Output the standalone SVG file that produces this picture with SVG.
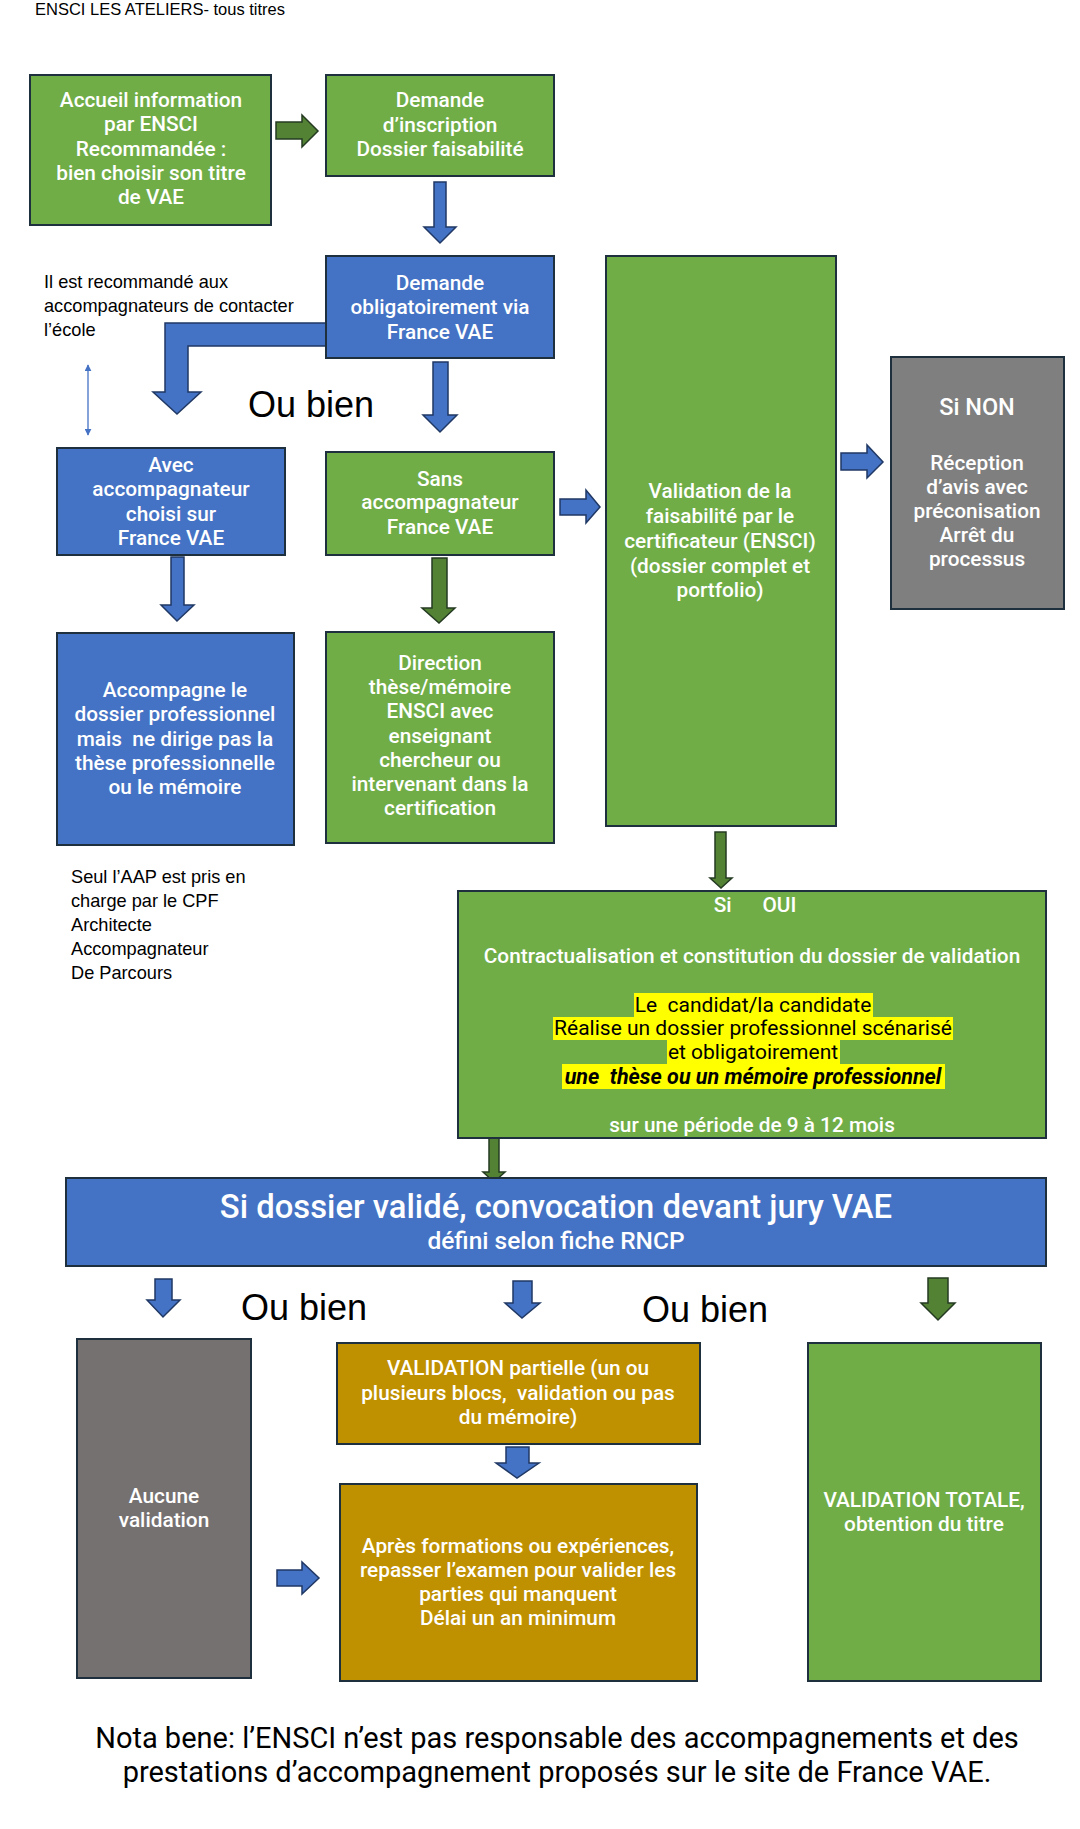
<svg xmlns="http://www.w3.org/2000/svg" width="1080" height="1829" viewBox="0 0 1080 1829">
<style>
.bx{stroke:#1e2f3e;stroke-width:2}
.g{fill:#70ad47}.b{fill:#4472c4}.gr{fill:#7f7f7f}.gb{fill:#767171}.au{fill:#bf9000}
.t{fill:#ffffff;font-family:Roboto,"Liberation Sans",sans-serif;font-weight:500;font-size:20.8px;text-anchor:middle}
.n{fill:#000000;font-family:"Liberation Sans",Arial,sans-serif;font-size:18.2px}
.ou{fill:#000000;font-family:"Liberation Sans",Arial,sans-serif;font-size:36px}
.k{fill:#000000;font-family:Roboto,"Liberation Sans",sans-serif;font-size:21px;text-anchor:middle}
.ab{fill:#4472c4;stroke:#203864;stroke-width:1.5}
.ag{fill:#548235;stroke:#243b22;stroke-width:1.5}
.pre{white-space:pre}
</style>
<defs>
<marker id="ah" viewBox="0 0 10 10" refX="9" refY="5" markerWidth="7" markerHeight="7" orient="auto-start-reverse" markerUnits="userSpaceOnUse">
<path d="M0,0 L10,5 L0,10 z" fill="#4472c4"/>
</marker>
</defs>
<rect width="1080" height="1829" fill="#ffffff"/>
<text x="35" y="15" style="fill:#000;font-family:'Liberation Sans',Arial,sans-serif;font-size:16.5px">ENSCI LES ATELIERS- tous titres</text>

<g id="connectors">
<polygon class="ag" points="276,122 302,122 302,115 318,131 302,147 302,139 276,139"/>
<polygon class="ab" points="434,182 446,182 446,227 456,227 440,243 424,227 434,227"/>
<polygon class="ab" points="327,323 165,323 165,392 153,392 177,414 201,392 188,392 188,346 327,346"/>
<polygon class="ab" points="433,362 448,362 448,415 457,415 440,432 423,415 433,415"/>
<line x1="88" y1="365" x2="88" y2="435" stroke="#4472c4" stroke-width="1.3" marker-start="url(#ah)" marker-end="url(#ah)"/>
<polygon class="ab" points="560,499 586,499 586,490 600,507 586,523 586,515 560,515"/>
<polygon class="ab" points="841,453 867,453 867,445 883,462 867,478 867,470 841,470"/>
<polygon class="ab" points="171,557 184,557 184,605 194,605 177,621 161,605 171,605"/>
<polygon class="ag" points="432,558 447,558 447,608 455,608 439,623 422,608 432,608"/>
<polygon class="ag" points="715,832 726,832 726,878 732,878 721,888 710,878 715,878"/>
<polygon class="ag" points="489,1124 499,1124 499,1172 505,1172 494,1182 483,1172 489,1172"/>
<polygon class="ab" points="155,1279 172,1279 172,1300 180,1300 163,1317 147,1300 155,1300"/>
<polygon class="ab" points="513,1281 532,1281 532,1303 540,1303 522,1318 505,1303 513,1303"/>
<polygon class="ag" points="928,1278 948,1278 948,1303 955,1303 938,1320 921,1303 928,1303"/>
<polygon class="ab" points="506,1447 529,1447 529,1463 539,1463 517,1478 496,1463 506,1463"/>
<polygon class="ab" points="277,1570 302,1570 302,1562 319,1578 302,1594 302,1586 277,1586"/>
</g>

<g id="accueil">
<rect class="bx g" x="30" y="75" width="241" height="150"/>
<text class="t"><tspan x="151" y="107">Accueil information</tspan><tspan x="151" y="131">par ENSCI</tspan><tspan x="151" y="156">Recommandée :</tspan><tspan x="151" y="180">bien choisir son titre</tspan><tspan x="151" y="204">de VAE</tspan></text>
</g>
<g id="demande-inscription">
<rect class="bx g" x="326" y="75" width="228" height="101"/>
<text class="t"><tspan x="440" y="107">Demande</tspan><tspan x="440" y="132">d’inscription</tspan><tspan x="440" y="156">Dossier faisabilité</tspan></text>
</g>
<g id="demande-france-vae">
<rect class="bx b" x="326" y="256" width="228" height="102"/>
<text class="t"><tspan x="440" y="290">Demande</tspan><tspan x="440" y="314">obligatoirement via</tspan><tspan x="440" y="339">France VAE</tspan></text>
</g>
<g id="note-recommande">
<text class="n"><tspan x="44" y="288">Il est recommandé aux</tspan><tspan x="44" y="312">accompagnateurs de contacter</tspan><tspan x="44" y="336">l’école</tspan></text>
</g>
<text class="ou" x="248" y="417">Ou bien</text>
<g id="avec">
<rect class="bx b" x="57" y="448" width="228" height="107"/>
<text class="t"><tspan x="171" y="472">Avec</tspan><tspan x="171" y="496">accompagnateur</tspan><tspan x="171" y="521">choisi sur</tspan><tspan x="171" y="545">France VAE</tspan></text>
</g>
<g id="sans">
<rect class="bx g" x="326" y="452" width="228" height="103"/>
<text class="t"><tspan x="440" y="486">Sans</tspan><tspan x="440" y="509">accompagnateur</tspan><tspan x="440" y="534">France VAE</tspan></text>
</g>
<g id="validation-faisabilite">
<rect class="bx g" x="606" y="256" width="230" height="570"/>
<text class="t"><tspan x="720" y="498">Validation de la</tspan><tspan x="720" y="523">faisabilité par le</tspan><tspan x="720" y="548">certificateur (ENSCI)</tspan><tspan x="720" y="573">(dossier complet et</tspan><tspan x="720" y="597">portfolio)</tspan></text>
</g>
<g id="si-non">
<rect class="bx gr" x="891" y="357" width="173" height="252"/>
<text class="t" x="977" y="415" style="font-size:23.5px">Si NON</text>
<text class="t"><tspan x="977" y="470">Réception</tspan><tspan x="977" y="494">d’avis avec</tspan><tspan x="977" y="518">préconisation</tspan><tspan x="977" y="542">Arrêt du</tspan><tspan x="977" y="566">processus</tspan></text>
</g>
<g id="accompagne">
<rect class="bx b" x="57" y="633" width="237" height="212"/>
<text class="t pre"><tspan x="175" y="697">Accompagne le</tspan><tspan x="175" y="721">dossier professionnel</tspan><tspan x="175" y="746">mais  ne dirige pas la</tspan><tspan x="175" y="770">thèse professionnelle</tspan><tspan x="175" y="794">ou le mémoire</tspan></text>
</g>
<g id="direction">
<rect class="bx g" x="326" y="632" width="228" height="211"/>
<text class="t"><tspan x="440" y="670">Direction</tspan><tspan x="440" y="694">thèse/mémoire</tspan><tspan x="440" y="718">ENSCI avec</tspan><tspan x="440" y="743">enseignant</tspan><tspan x="440" y="767">chercheur ou</tspan><tspan x="440" y="791">intervenant dans la</tspan><tspan x="440" y="815">certification</tspan></text>
</g>
<g id="note-aap">
<text class="n"><tspan x="71" y="883">Seul l’AAP est pris en</tspan><tspan x="71" y="907">charge par le CPF</tspan><tspan x="71" y="931">Architecte</tspan><tspan x="71" y="955">Accompagnateur</tspan><tspan x="71" y="979">De Parcours</tspan></text>
</g>
<g id="si-oui">
<rect class="bx g" x="458" y="891" width="588" height="247"/>
<text class="t pre" x="755" y="912">Si      OUI</text>
<text class="t" x="752" y="963">Contractualisation et constitution du dossier de validation</text>
<rect x="634" y="993" width="239" height="24" fill="#ffff00"/>
<rect x="553" y="1017" width="400" height="23" fill="#ffff00"/>
<rect x="667" y="1040" width="173" height="24" fill="#ffff00"/>
<rect x="562" y="1064" width="383" height="25" fill="#ffff00"/>
<text class="k pre"><tspan x="753" y="1012">Le  candidat/la candidate</tspan><tspan x="753" y="1035">Réalise un dossier professionnel scénarisé</tspan><tspan x="753" y="1059">et obligatoirement</tspan><tspan x="753" y="1084" style="font-weight:bold;font-style:italic;font-size:21.5px">une  thèse ou un mémoire professionnel</tspan></text>
<text class="t" x="752" y="1132">sur une période de 9 à 12 mois</text>
</g>
<g id="jury">
<rect class="bx b" x="66" y="1178" width="980" height="88"/>
<text class="t" x="556" y="1218" style="font-size:32.8px">Si dossier validé, convocation devant jury VAE</text>
<text class="t" x="556" y="1249" style="font-size:24.5px">défini selon fiche RNCP</text>
</g>
<text class="ou" x="241" y="1320">Ou bien</text>
<text class="ou" x="642" y="1322">Ou bien</text>
<g id="aucune">
<rect class="bx gb" x="77" y="1339" width="174" height="339"/>
<text class="t"><tspan x="164" y="1503">Aucune</tspan><tspan x="164" y="1527">validation</tspan></text>
</g>
<g id="partielle">
<rect class="bx au" x="337" y="1343" width="363" height="101"/>
<text class="t pre"><tspan x="518" y="1375">VALIDATION partielle (un ou</tspan><tspan x="518" y="1400">plusieurs blocs,  validation ou pas</tspan><tspan x="518" y="1424">du mémoire)</tspan></text>
</g>
<g id="apres">
<rect class="bx au" x="340" y="1484" width="357" height="197"/>
<text class="t"><tspan x="518" y="1553">Après formations ou expériences,</tspan><tspan x="518" y="1577">repasser l’examen pour valider les</tspan><tspan x="518" y="1601">parties qui manquent</tspan><tspan x="518" y="1625">Délai un an minimum</tspan></text>
</g>
<g id="totale">
<rect class="bx g" x="808" y="1343" width="233" height="338"/>
<text class="t"><tspan x="924" y="1507">VALIDATION TOTALE,</tspan><tspan x="924" y="1531">obtention du titre</tspan></text>
</g>
<text style="fill:#000;font-family:Roboto,'Liberation Sans',sans-serif;font-size:29px;text-anchor:middle"><tspan x="557" y="1748">Nota bene: l’ENSCI n’est pas responsable des accompagnements et des</tspan><tspan x="557" y="1782">prestations d’accompagnement proposés sur le site de France VAE.</tspan></text>
</svg>
